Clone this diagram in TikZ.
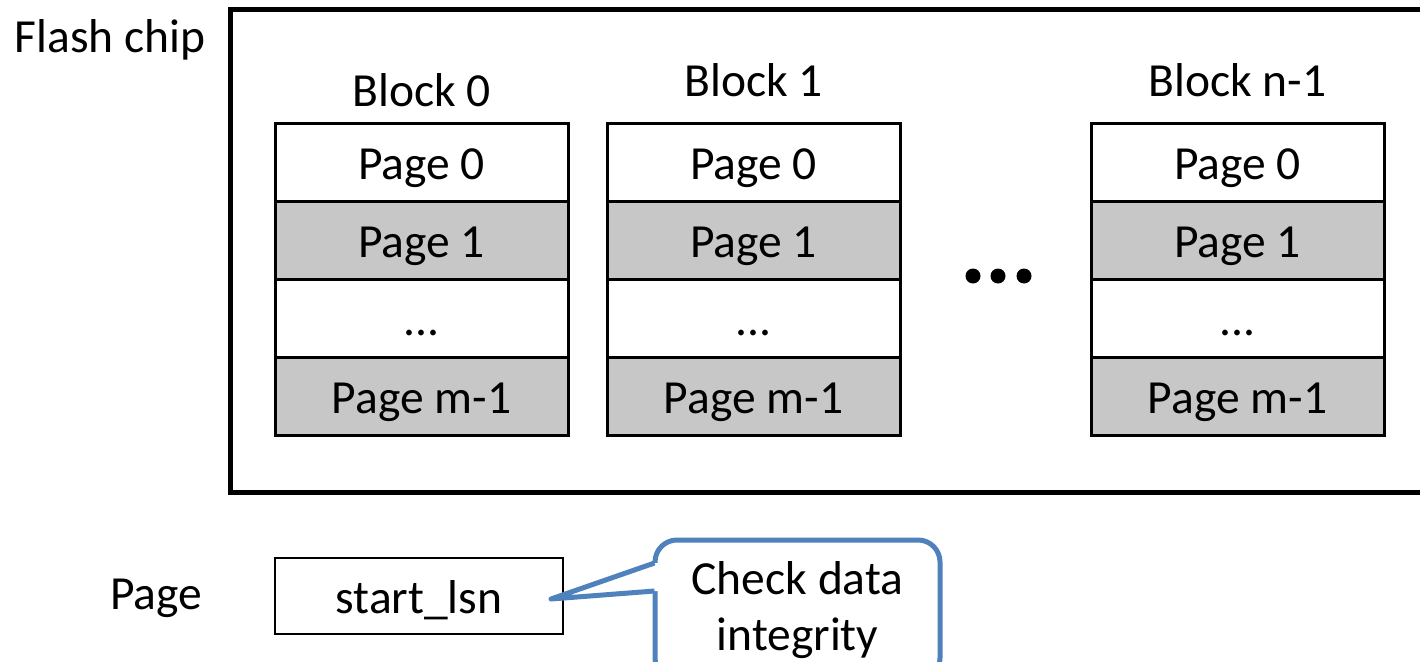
\documentclass[tikz,border=0pt]{standalone}
\usepackage{fontspec}
\setmainfont{Carlito}
\usetikzlibrary{positioning,calc}

\definecolor{calloutblue}{RGB}{79,129,189}
\newcommand{\bigfont}{\fontsize{47.5}{56}\selectfont}

\tikzset{
  page/.style={draw, line width=3pt, outer sep=0pt, inner sep=0pt,
    minimum width=293pt, minimum height=78pt, font=\bigfont,
    text height=38pt, text depth=4pt},
  shadedpage/.style={page, fill=black!22},
  lbl/.style={font=\bigfont, inner sep=0pt},
}

\begin{document}
\begin{tikzpicture}[x=1pt,y=-1pt]
  \useasboundingbox (0,0) rectangle (1420,661);

  % the chip (cut off at the right)
  \draw[line width=5pt] (1420,10) -- (230,10) -- (230,492) -- (1420,492);
  \node[lbl] (chip) at (110,40) {Flash chip};

  % blocks of pages
  \foreach \name/\x/\title/\ty in {b0/275/Block 0/90, b1/607/Block 1/80, bn/1091/Block n-1/80} {
    \node[lbl] (\name t) at (\x+146.5,\ty) {\title};
    \node[page, anchor=north west] (\name p0) at (\x,123) {Page 0};
    \node[shadedpage, below=0pt of \name p0] (\name p1) {Page 1};
    \node[page, below=0pt of \name p1] (\name p2) {...};
    \node[shadedpage, below=0pt of \name p2] (\name p3) {Page m-1};
  }

  % dots between the blocks
  \foreach \dx in {973,998,1024}
    \fill (\dx,276) circle (7.5pt);

  % page layout
  \node[lbl] (pagelbl) at (156,598) {Page};
  \node[page, minimum width=288pt, minimum height=76pt, line width=2.5pt] (lsn) at (419,596) {start\_lsn};

  % callout
  \node[draw=calloutblue, line width=5pt, rounded corners=22pt, minimum width=285pt,
    minimum height=140pt, align=center, font=\bigfont, inner sep=0pt] (check) at (797.5,610)
    {\raisebox{9pt}{Check data}\\\raisebox{9pt}{integrity}};
  \coordinate (tip) at (lsn.east);
  \coordinate (pa) at ($(check.west)+(2,-47)$);
  \coordinate (pb) at ($(check.west)+(2,-19)$);
  \fill[white] (pa) -- (tip) -- (pb) -- ++(4,0) -- ($(pa)+(4,0)$) -- cycle;
  \draw[calloutblue, line width=5pt, line join=round] (pa) -- ($(tip)+(-12,3)$) -- (pb);
\end{tikzpicture}
\end{document}
